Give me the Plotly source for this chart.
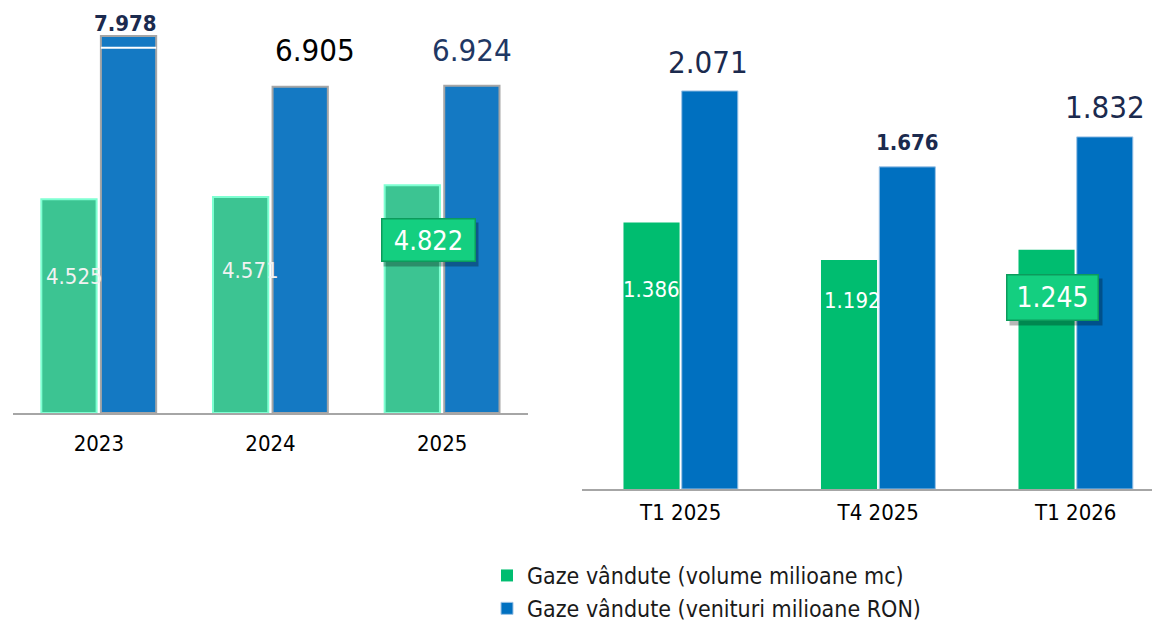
import plotly.graph_objects as go

# values
years = ["2023", "2024", "2025"]
vol_years = [4.525, 4.571, 4.822]      # gaze vandute, milioane mc
rev_years = [7.978, 6.905, 6.924]      # venituri, milioane RON

quarters = ["T1 2025", "T4 2025", "T1 2026"]
vol_q = [1.386, 1.192, 1.245]
rev_q = [2.071, 1.676, 1.832]

legend_names = ["Gaze vândute (volume milioane mc)", "Gaze vândute (venituri milioane RON)"]

FONT = "DejaVu Sans Condensed, DejaVu Sans, sans-serif"
W, H = 1152, 622

# colours
GREEN_L, GREEN_L_EDGE = "#3CC492", "#7FFFD2"
BLUE_L, BLUE_L_EDGE = "#1479C3", "#A6A6A6"
GREEN_R = "#00BD70"
BLUE_R, BLUE_R_EDGE = "#0070C0", "#9DC3E6"
NAVY = "#1B2A4E"
AXIS = "#A6A6A6"

# bar geometry (category units)
L_G_OFF, L_B_OFF, L_W = -0.335, 0.012, 0.322
R_G_OFF, R_B_OFF, R_W = -0.29, 0.005, 0.284

fig = go.Figure()

fig.add_trace(go.Bar(x=years, y=vol_years, offset=L_G_OFF, width=L_W, xaxis="x", yaxis="y",
                     marker=dict(color=GREEN_L, line=dict(color=GREEN_L_EDGE, width=2)),
                     showlegend=False, hoverinfo="skip"))
fig.add_trace(go.Bar(x=years, y=rev_years, offset=L_B_OFF, width=L_W, xaxis="x", yaxis="y",
                     marker=dict(color=BLUE_L, line=dict(color=BLUE_L_EDGE, width=2)),
                     showlegend=False, hoverinfo="skip"))
fig.add_trace(go.Bar(x=quarters, y=vol_q, offset=R_G_OFF, width=R_W, xaxis="x2", yaxis="y2",
                     marker=dict(color=GREEN_R, line=dict(width=0)),
                     name=legend_names[0], hoverinfo="skip"))
fig.add_trace(go.Bar(x=quarters, y=rev_q, offset=R_B_OFF, width=R_W, xaxis="x2", yaxis="y2",
                     marker=dict(color=BLUE_R, line=dict(color=BLUE_R_EDGE, width=1)),
                     name=legend_names[1], hoverinfo="skip"))

# white break line near the top of the 2023 revenue bar
fig.add_shape(type="line", xref="x", yref="y",
              x0=0 + L_B_OFF, x1=0 + L_B_OFF + L_W,
              y0=rev_years[0] - 0.25, y1=rev_years[0] - 0.25,
              line=dict(color="white", width=2))

annotations = []


def value_label(xref, yref, x, y, text, size, color, bold, xs, ys):
    t = f"<b>{text}</b>" if bold else text
    annotations.append(dict(xref=xref, yref=yref, x=x, y=y, text=t, showarrow=False,
                            xanchor="center", yanchor="middle", xshift=xs, yshift=ys,
                            font=dict(family=FONT, size=size, color=color)))


def box_label(xref, yref, x, y, text, size, xs, ys, bw, bh):
    # shadow, then the green badge
    annotations.append(dict(xref=xref, yref=yref, x=x, y=y, text="", showarrow=False,
                            xshift=xs + 3, yshift=ys - 4, width=bw, height=bh,
                            bgcolor="rgba(0,0,0,0.28)", borderpad=5))
    annotations.append(dict(xref=xref, yref=yref, x=x, y=y, text=text, showarrow=False,
                            xanchor="center", yanchor="middle", xshift=xs, yshift=ys,
                            width=bw, height=bh, bgcolor="#14CF80", bordercolor="#0C9B5C",
                            borderwidth=1.5, borderpad=4,
                            font=dict(family=FONT, size=size, color="white")))


# left chart labels
blue_l_style = [(22, NAVY, True, -3, 13), (31, "#000000", False, 15, 37), (31, "#1F3864", False, 0, 36)]
for i, v in enumerate(rev_years):
    s, c, b, xs, ys = blue_l_style[i]
    value_label("x", "y", i + L_B_OFF + L_W / 2, v, f"{v:.3f}", s, c, b, xs, ys)

green_l_style = [(22, 6, -77), (22, 10, -73)]
for i, v in enumerate(vol_years[:2]):
    s, xs, ys = green_l_style[i]
    value_label("x", "y", i + L_G_OFF + L_W / 2, v, f"{v:.3f}", s, "#F2F2F2", False, xs, ys)
box_label("x", "y", 2 + L_G_OFF + L_W / 2, vol_years[2], f"{vol_years[2]:.3f}", 27, 16, -55, 84, 33)

# right chart labels
blue_r_style = [(31, NAVY, False, -2, 29), (22, NAVY, True, 0, 24), (31, NAVY, False, 0, 30)]
for i, v in enumerate(rev_q):
    s, c, b, xs, ys = blue_r_style[i]
    value_label("x2", "y2", i + R_B_OFF + R_W / 2, v, f"{v:.3f}", s, c, b, xs, ys)

green_r_style = [(22, 0, -67), (22, 3, -41)]
for i, v in enumerate(vol_q[:2]):
    s, xs, ys = green_r_style[i]
    value_label("x2", "y2", i + R_G_OFF + R_W / 2, v, f"{v:.3f}", s, "white", False, xs, ys)
box_label("x2", "y2", 2 + R_G_OFF + R_W / 2, vol_q[2], f"{vol_q[2]:.3f}", 28, 6, -48, 82, 36)

xaxis_common = dict(type="category", showline=True, linecolor=AXIS, linewidth=2, ticks="",
                    showgrid=False, zeroline=False, fixedrange=True,
                    tickfont=dict(family=FONT, size=22, color="#000000"))
yaxis_common = dict(visible=False, showgrid=False, zeroline=False, fixedrange=True)

fig.update_layout(
    width=W, height=H,
    margin=dict(l=0, r=0, t=0, b=0, autoexpand=False),
    paper_bgcolor="white", plot_bgcolor="white",
    barmode="overlay",
    font=dict(family=FONT),
    xaxis=dict(domain=[13 / W, 528 / W], range=[-0.5, 2.5], anchor="y",
               ticklabelstandoff=10, **xaxis_common),
    yaxis=dict(domain=[1 - 413 / H, 1], range=[0, 413 / 47.25], anchor="x", **yaxis_common),
    xaxis2=dict(domain=[582 / W, 1], range=[-0.5, 2.386], anchor="y2",
                ticklabelstandoff=3, **xaxis_common),
    yaxis2=dict(domain=[1 - 489 / H, 1], range=[0, 489 / 192.2], anchor="x2", **yaxis_common),
    legend=dict(x=487 / W, y=1 - 554 / H, xanchor="left", yanchor="top",
                orientation="v", traceorder="normal", bgcolor="rgba(0,0,0,0)",
                font=dict(family=FONT, size=23, color="#1A1A1A"),
                itemwidth=30, tracegroupgap=0),
    annotations=annotations,
)

# drop the default 8px page margin so the figure sits at the window origin
fig.write_html("out.html", config={"displayModeBar": False},
               post_script="document.body.style.margin = '0';")
